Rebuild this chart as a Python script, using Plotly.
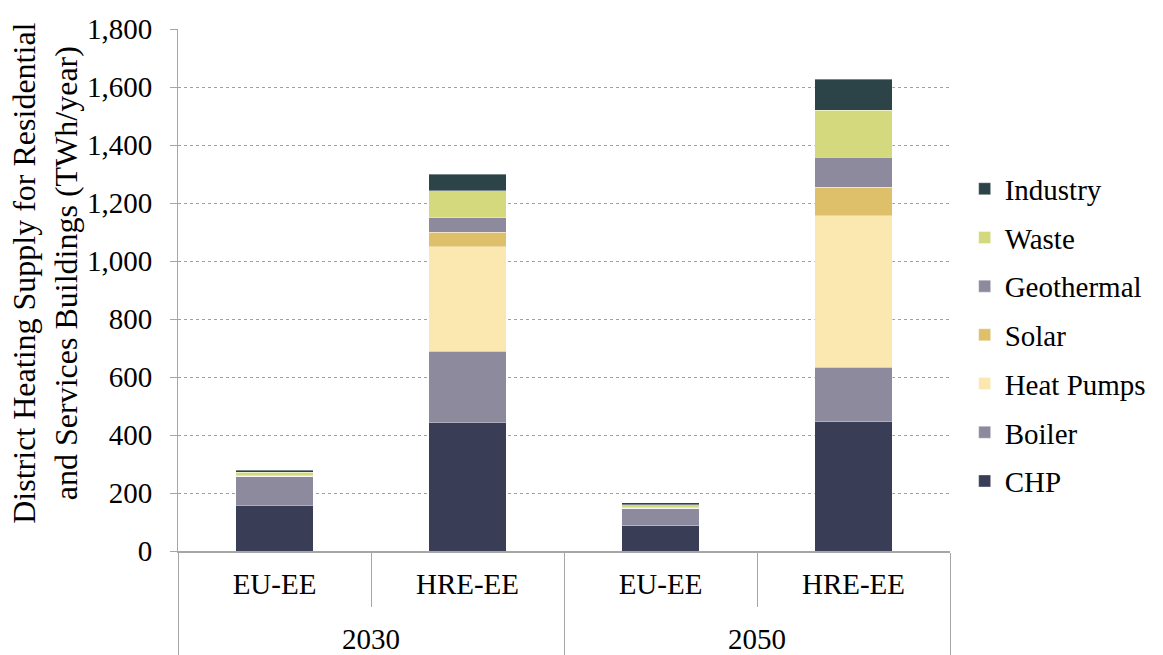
import plotly.graph_objects as go

years = ["2030", "2030", "2050", "2050"]
scenarios = ["EU-EE", "HRE-EE", "EU-EE", "HRE-EE"]

series_names = ["CHP", "Boiler", "Heat Pumps", "Solar", "Geothermal", "Waste", "Industry"]
chp = [157, 444, 87, 447]
boiler = [100, 245, 60, 186]
heat_pumps = [0, 360, 0, 523]
solar = [0, 50, 0, 99]
geothermal = [2, 51, 2, 102]
waste = [13, 92, 10, 162]
industry = [7, 57, 8, 108]
series_values = [chp, boiler, heat_pumps, solar, geothermal, waste, industry]
colors = ["#393D56", "#8C8A9C", "#FBE7B0", "#DEC06B", "#8C8A9C", "#D3D97C", "#2C4448"]

y_title = "District Heating Supply for Residential<br>and Services Buildings (TWh/year)"

font_family = "Liberation Serif"

# outer level label shifted down to mimic the two-row category axis spacing
outer = ["<span style='baseline-shift:-27px'>" + y + "</span>" for y in years]

fig = go.Figure()
for i, (name, vals, col) in enumerate(zip(series_names, series_values, colors)):
    fig.add_trace(go.Bar(
        x=[outer, scenarios], y=vals, name=name,
        marker=dict(color=col, line=dict(color="rgba(255,255,255,0.6)", width=0.6)),
        legendgroup=name, legendrank=1000 - i,
    ))

fig.update_layout(
    barmode="stack",
    bargap=0.6,
    width=1163, height=655,
    margin=dict(l=178, r=213, t=29, b=104),
    paper_bgcolor="white", plot_bgcolor="white",
    font=dict(family=font_family, size=29, color="black"),
    legend=dict(
        traceorder="grouped", x=1.019, y=0.414, xanchor="left", yanchor="middle",
        font=dict(family=font_family, size=29, color="black"), tracegroupgap=8,
    ),
    showlegend=True,
)
fig.update_yaxes(
    range=[0, 1800], dtick=200, tickformat=",",
    showgrid=True, gridcolor="#A0A0A0", griddash="dot", gridwidth=1,
    showline=True, linecolor="#A6A6A6", linewidth=1,
    ticks="outside", ticklen=7, tickcolor="#A6A6A6", ticklabelstandoff=12, automargin=False,
    tickfont=dict(family=font_family, size=29, color="black"),
    zeroline=False,
)
fig.update_xaxes(
    type="multicategory", automargin=False,
    showline=True, linecolor="#A6A6A6", linewidth=1.5,
    tickson="boundaries", ticks="outside", ticklen=54, tickcolor="#A6A6A6",
    showdividers=True, dividercolor="#A6A6A6", dividerwidth=1,
    tickfont=dict(family=font_family, size=29, color="black"),
    ticklabelstandoff=6,
)
fig.add_annotation(
    text=y_title, textangle=-90, showarrow=False,
    xref="paper", yref="paper", x=-0.1723, y=0.533, xanchor="center", yanchor="middle",
    font=dict(family=font_family, size=32, color="black"),
)

fig.write_html("out.html", config={"displayModeBar": False},
               post_script="document.body.style.margin='0';window.dispatchEvent(new Event('resize'));")
